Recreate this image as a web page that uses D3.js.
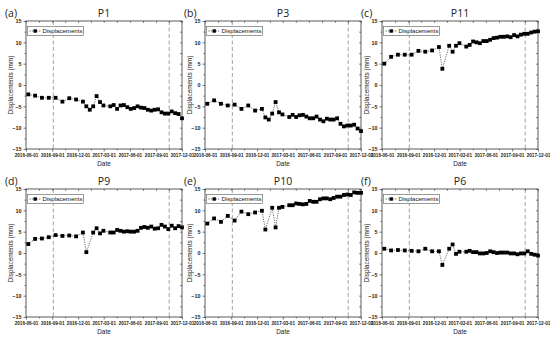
<!DOCTYPE html>
<meta charset="utf-8">
<style>
body { margin: 0; background: #fff; }
svg { font-family: "Liberation Sans", Arial, sans-serif; }
.tick text { font-size: 5.4px; font-weight: bold; fill: #222; }
.domain { display: none; }
</style>
<svg width="550" height="338"></svg>
<script src="https://d3js.org/d3.v7.min.js"></script>
<script>

// acquisition dates (24-day revisit first, then 12-day)
var dates = ["2016-06-09","2016-07-03","2016-07-27","2016-08-20","2016-09-13","2016-10-07","2016-10-31","2016-11-24","2016-12-18",
  "2016-12-30","2017-01-11","2017-01-23","2017-02-04","2017-02-16","2017-02-28",
  "2017-03-24","2017-04-05","2017-04-17","2017-04-29","2017-05-11","2017-05-23","2017-06-04","2017-06-16","2017-06-28",
  "2017-07-10","2017-07-22","2017-08-03","2017-08-15","2017-08-27","2017-09-08","2017-09-20","2017-10-02","2017-10-14",
  "2017-10-26","2017-11-07","2017-11-19","2017-12-01"];

var p1 = [-2.2,-2.5,-3.0,-3.0,-3.0,-3.9,-3.1,-3.4,-3.9,-5.0,-5.8,-5.0,-2.6,-4.0,-4.8,
  -5.0,-4.7,-5.6,-4.8,-4.7,-5.2,-5.6,-5.4,-5.0,-5.3,-5.4,-5.8,-6.0,-5.8,-5.7,-6.4,-6.7,-6.7,-6.2,-6.6,-6.8,-7.8];
var p3 = [-4.4,-3.6,-4.4,-4.8,-4.6,-5.6,-4.8,-6.0,-5.6,-7.6,-8.1,-6.7,-4.0,-6.4,-6.9,
  -7.5,-7.0,-7.5,-7.1,-7.0,-7.4,-7.8,-7.8,-7.4,-8.1,-8.5,-7.9,-8.1,-8.1,-7.8,-9.1,-9.7,-9.5,-9.5,-9.3,-10.2,-10.8];
var p11 = [5.0,6.6,7.1,7.1,7.1,8.0,7.8,8.1,8.9,3.8,null,9.2,7.8,9.2,9.8,
  9.0,9.4,10.2,10.0,9.8,10.3,10.3,10.6,11.0,11.1,11.3,11.3,11.4,11.2,11.7,11.4,11.8,12.0,12.0,12.3,12.5,12.6];
var p9 = [2.1,3.3,3.4,3.7,4.2,4.0,4.1,3.9,4.8,0.2,null,4.8,5.8,4.6,5.2,
  4.8,4.8,5.4,5.2,5.0,5.1,5.0,5.0,5.2,5.9,6.1,5.9,6.2,5.7,5.8,6.6,6.2,5.6,6.4,5.8,6.3,6.0];
var p10 = [6.9,8.1,7.3,8.7,7.6,9.7,9.1,9.5,9.9,5.5,null,10.6,6.0,10.6,10.8,
  11.2,11.2,11.6,11.5,11.4,11.5,12.2,12.0,12.0,12.6,12.8,12.8,12.6,12.9,13.2,13.2,13.6,13.7,13.6,14.2,14.1,14.1];
var p6 = [1.0,0.6,0.7,0.6,0.5,0.4,1.0,0.4,0.4,-2.8,null,1.0,2.0,-0.2,0.3,
  0.3,0.5,0.2,0.2,-0.1,-0.1,0.0,0.4,0.2,0.0,0.1,0.1,0.1,-0.1,-0.1,-0.3,-0.1,-0.1,0.4,-0.2,-0.4,-0.6];

var panelNames = ["P1", "P3", "P11", "P9", "P10", "P6"];
var panelTags = ["(a)", "(b)", "(c)", "(d)", "(e)", "(f)"];
var yTicks = [-15, -10, -5, 0, 5, 10, 15];
var xTicks = ["2016-06-01","2016-09-01","2016-12-01","2017-03-01","2017-06-01","2017-09-01","2017-12-01"];
var eventDates = ["2016-09-05", "2017-10-17"];

var series = [p1, p3, p11, p9, p10, p6];

var parse = d3.utcParse("%Y-%m-%d"),
    fmt = d3.utcFormat("%Y-%m-%d");

var svg = d3.select("svg");
var cols = [26, 205, 382], rows = [21, 189],
    pw = 156, ph = 128;

var x = d3.scaleUtc()
    .domain([parse(xTicks[0]), parse(xTicks[xTicks.length - 1])])
    .range([0, pw]);
var y = d3.scaleLinear().domain([-15, 15]).range([ph, 0]);

var xMajor = xTicks.map(parse);
var xMinor = d3.pairs(xMajor).map(function(p) { return new Date((+p[0] + +p[1]) / 2); });
var yMinor = d3.pairs(yTicks).map(function(p) { return (p[0] + p[1]) / 2; });

series.forEach(function(vals, i) {
  var g = svg.append("g")
      .attr("transform", "translate(" + cols[i % 3] + "," + rows[Math.floor(i / 3)] + ")");

  var pts = vals.map(function(v, j) { return {date: parse(dates[j]), value: v}; })
      .filter(function(d) { return d.value != null; });

  // event lines
  g.selectAll(".event")
    .data(eventDates.map(parse))
    .enter().append("line")
      .attr("x1", function(d) { return x(d); })
      .attr("x2", function(d) { return x(d); })
      .attr("y1", 0).attr("y2", ph)
      .attr("stroke", "#8a8a8a")
      .attr("stroke-width", 0.8)
      .attr("stroke-dasharray", "4,2.5");

  // axes
  g.append("g").attr("transform", "translate(0," + ph + ")")
      .call(d3.axisBottom(x).tickValues(xMajor).tickSize(2.5).tickPadding(1.5).tickFormat(fmt))
    .selectAll("text")
      .attr("textLength", 23.5)
      .attr("lengthAdjust", "spacingAndGlyphs");
  g.append("g").attr("transform", "translate(0," + ph + ")")
      .call(d3.axisBottom(x).tickValues(xMinor).tickSize(1.5).tickFormat(""));
  g.append("g")
      .call(d3.axisLeft(y).tickValues(yTicks).tickSize(2.5).tickPadding(2));
  g.append("g")
      .call(d3.axisLeft(y).tickValues(yMinor).tickSize(1.5).tickFormat(""));
  g.append("g")
      .call(d3.axisTop(x).tickValues(xMajor.concat(xMinor)).tickSize(-1.8).tickFormat(""));
  g.append("g").attr("transform", "translate(" + pw + ",0)")
      .call(d3.axisRight(y).tickValues(yTicks.concat(yMinor)).tickSize(-1.8).tickFormat(""));
  g.selectAll(".tick line").attr("stroke", "#222").attr("stroke-width", 0.6);

  g.append("rect")
      .attr("width", pw).attr("height", ph)
      .attr("fill", "none").attr("stroke", "#333").attr("stroke-width", 0.8);

  // series
  g.append("path")
      .datum(pts)
      .attr("fill", "none")
      .attr("stroke", "#444")
      .attr("stroke-width", 0.8)
      .attr("stroke-dasharray", "1.2,1.2")
      .attr("d", d3.line().x(function(d) { return x(d.date); }).y(function(d) { return y(d.value); }));

  g.selectAll(".pt")
    .data(pts)
    .enter().append("rect")
      .attr("x", function(d) { return x(d.date) - 1.9; })
      .attr("y", function(d) { return y(d.value) - 1.9; })
      .attr("width", 3.8).attr("height", 3.8)
      .attr("fill", "#000");

  // legend
  var lg = g.append("g").attr("transform", "translate(1.5,5.5)");
  lg.append("rect").attr("width", 56).attr("height", 9)
      .attr("fill", "#fff").attr("stroke", "#555").attr("stroke-width", 0.6);
  lg.append("line").attr("x1", 2).attr("x2", 13.5).attr("y1", 4.5).attr("y2", 4.5)
      .attr("stroke", "#444").attr("stroke-width", 0.8).attr("stroke-dasharray", "1.2,1.2");
  lg.append("rect").attr("x", 6).attr("y", 2.8).attr("width", 3.4).attr("height", 3.4).attr("fill", "#000");
  lg.append("text").attr("x", 15).attr("y", 6.6)
      .attr("font-size", 6.1).attr("fill", "#111").text("Displacements");

  // labels
  g.append("text")
      .attr("transform", "translate(-13," + ph / 2 + ") rotate(-90)")
      .attr("text-anchor", "middle")
      .attr("font-size", 6.4).attr("fill", "#222")
      .text("Displacements (mm)");
  g.append("text")
      .attr("x", pw / 2).attr("y", ph + 16.5)
      .attr("text-anchor", "middle")
      .attr("font-size", 6.4).attr("fill", "#222")
      .text("Date");
  g.append("text")
      .attr("x", pw / 2).attr("y", -4.5)
      .attr("text-anchor", "middle")
      .attr("font-family", "'Open Sans', sans-serif")
      .attr("font-size", 10.5).attr("fill", "#222")
      .text(panelNames[i]);
  g.append("text")
      .attr("x", -21).attr("y", -4.5)
      .attr("font-family", "'Open Sans', sans-serif")
      .attr("font-size", 10.5).attr("fill", "#222")
      .text(panelTags[i]);
});

</script>
